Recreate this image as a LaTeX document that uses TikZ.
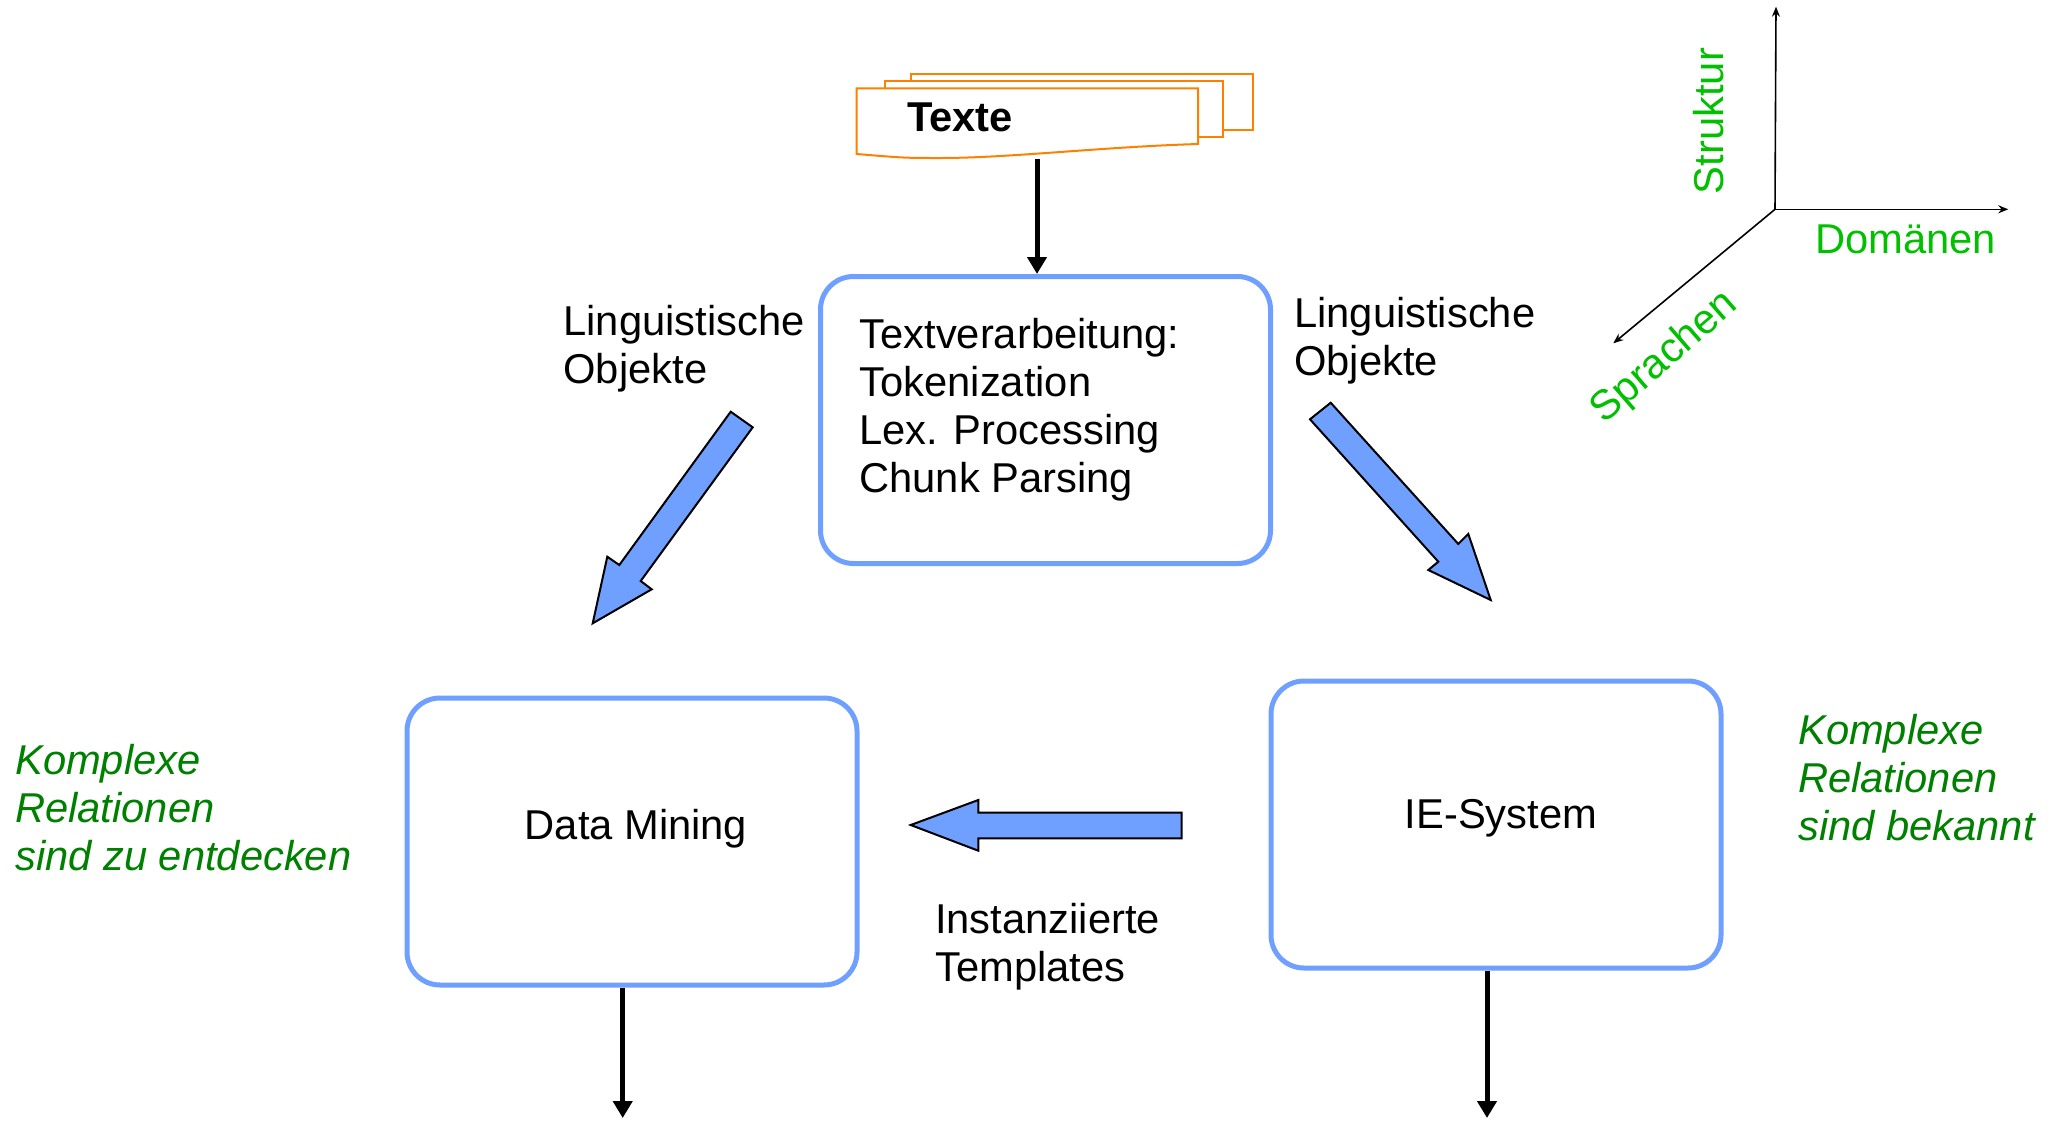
\documentclass[tikz,border=0pt]{standalone}
\usepackage{fontspec}
\setmainfont{Liberation Sans}
\usetikzlibrary{arrows.meta}
\definecolor{boxblue}{RGB}{112,160,255}
\definecolor{docorange}{RGB}{255,128,0}
\definecolor{axisgreen}{RGB}{0,192,0}
\definecolor{notegreen}{RGB}{0,128,0}
\newcommand{\bigtext}{\fontsize{41.7}{48}\selectfont}
\tikzset{
  procbox/.style={draw=boxblue, line width=5pt, rounded corners=33pt, fill=white,
    minimum width=450pt, minimum height=287pt, inner sep=0pt},
  % multi-line labels are placed by the baseline of their last line
  lbl/.style={anchor=base west, inner sep=0pt, align=left, font=\bigtext},
  note/.style={lbl, text=notegreen, font=\bigtext\itshape},
  axislbl/.style={inner sep=0pt, text=axisgreen, font=\bigtext},
  flow/.style={line width=5pt, -{Triangle[length=17pt,width=19pt]}},
  blockarrow/.style={fill=boxblue, draw=black, line width=2pt, line join=miter},
  axis/.style={line width=1.6pt, -{Stealth[length=10pt,width=8pt]}},
  docsheet/.style={draw=docorange, line width=2pt, fill=white}
}
\begin{document}
\begin{tikzpicture}[x=1pt,y=-1pt]
\useasboundingbox (0,0) rectangle (2065,1120);

% stacked document symbol
\draw[docsheet] (910.7,74) rectangle (1253,130);
\draw[docsheet] (885,80.7) rectangle (1223,137);
\draw[docsheet] (856.7,88.3) -- (1198,88.3) -- (1198,144)
  .. controls (1100,147) and (1010,158) .. (940,158)
  .. controls (905,158) .. (856.7,154) -- cycle;
\node[anchor=base west, inner sep=0pt, font=\bigtext\bfseries] (texte) at (907,131) {Texte};
\coordinate (docbottom) at (1037,159);

% processing boxes
\node[procbox] (tv) at (1045.5,420) {};
\node[lbl] (tvtext) at (859.3,492.3) {Textverarbeitung:\\Tokenization\\Lex. Processing\\Chunk Parsing};
\node[procbox] (dm) at (632,841.5) {};
\node[anchor=base, inner sep=0pt, font=\bigtext] (dmtext) at (636,839) {Data Mining};
\node[procbox] (ie) at (1496,824.5) {};
\node[anchor=base, inner sep=0pt, font=\bigtext] (ietext) at (1501,828) {IE-System};

% black connectors
\draw[flow] (docbottom) -- (docbottom |- tv.north);
\coordinate (dmout) at (622.7,1118);
\coordinate (ieout) at (1487,1118);
\draw[flow] (dm.south -| dmout) -- (dmout);
\draw[flow] (ie.south -| ieout) -- (ieout);

% block arrows
\draw[blockarrow] (730.7,411.7) -- (752.7,427.3) -- (640.7,581) -- (651.7,589.3)
  -- (592.7,623.3) -- (607.3,556.7) -- (619.3,565) -- cycle;
\draw[blockarrow] (1330.7,402.7) -- (1458.3,544) -- (1468.3,534) -- (1490.7,600)
  -- (1428.3,570) -- (1438.3,561.7) -- (1310,419.3) -- cycle;
\draw[blockarrow] (910.7,825) -- (978.3,800) -- (978.3,812.7) -- (1181.7,812.7)
  -- (1181.7,838.3) -- (978.3,838.3) -- (978.3,850.7) -- cycle;

% labels
\node[lbl] (lingL) at (563.3,383.3) {Linguistische\\Objekte};
\node[lbl] (lingR) at (1294,375) {Linguistische\\Objekte};
\node[lbl] (templ) at (935,981.7) {Instanziierte\\Templates};
\node[note] (noteL) at (15,870) {Komplexe\\Relationen\\sind zu entdecken};
\node[note] (noteR) at (1798,840) {Komplexe\\Relationen\\sind bekannt};

% dimension axes
\coordinate (o) at (1775,209.3);
\coordinate (up) at (1776,6.7);
\coordinate (right) at (2008.3,209.3);
\coordinate (down) at (1613.3,343.3);
\draw[axis] (o) -- (up);
\draw[axis] (o) -- (right);
\draw[axis] (o) -- (down);
\node[axislbl, rotate=90] (struktur) at (1709,121) {Struktur};
\node[axislbl, anchor=base west] (domaenen) at (1815,253) {Domänen};
\node[axislbl, rotate=41] (sprachen) at (1665,358) {Sprachen};
\end{tikzpicture}
\end{document}
